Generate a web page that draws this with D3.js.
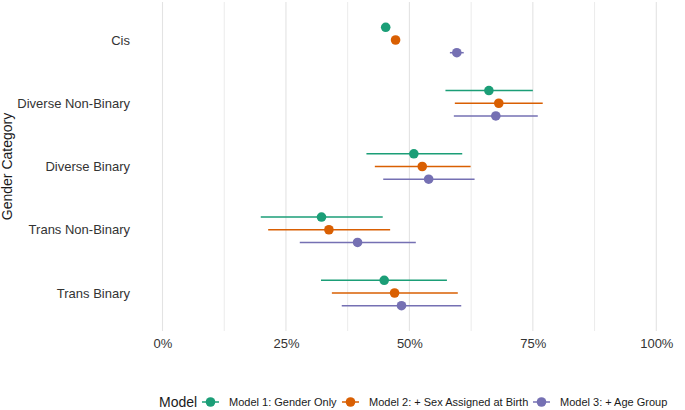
<!DOCTYPE html>
<html>
<head>
<meta charset="utf-8">
<script src="https://cdn.jsdelivr.net/npm/d3@7"></script>
<style>
  body { margin: 0; background: #fff; }
  text { font-family: "Liberation Sans", Arial, sans-serif; }
</style>
</head>
<body>
<script>
// forest-style dot + CI plot

let w = 685;
let h = 410;

let categories = ['Cis', 'Diverse Non-Binary', 'Diverse Binary', 'Trans Non-Binary', 'Trans Binary'];
let models = ['Model 1: Gender Only', 'Model 2: + Sex Assigned at Birth', 'Model 3: + Age Group'];
let colors = ['#1B9E77', '#D95F02', '#7570B3'];

// estimates (%) per category, one array per model
let est1 = [45.2, 66.1, 50.9, 32.2, 44.9];
let lo1  = [44.9, 57.3, 41.3, 19.9, 32.1];
let hi1  = [45.5, 75.0, 60.7, 44.6, 57.6];

let est2 = [47.2, 68.1, 52.6, 33.7, 47.0];
let lo2  = [46.9, 59.2, 43.0, 21.4, 34.3];
let hi2  = [47.5, 77.0, 62.4, 46.1, 59.8];

let est3 = [59.6, 67.5, 53.9, 39.5, 48.4];
let lo3  = [58.2, 59.0, 44.7, 27.8, 36.3];
let hi3  = [61.0, 76.0, 63.2, 51.3, 60.5];

let xTicks = [0, 25, 50, 75, 100];
let xMinor = [12.5, 37.5, 62.5, 87.5];

let series = [
    { est: est1, lo: lo1, hi: hi1 },
    { est: est2, lo: lo2, hi: hi2 },
    { est: est3, lo: lo3, hi: hi3 }
];

let rows = [];
series.forEach((s, m) => {
    categories.forEach((c, i) => {
        rows.push({ cat: c, model: m, est: s.est[i], lo: s.lo[i], hi: s.hi[i] });
    });
});

let svg = d3.select('body').append('svg').attr('width', w).attr('height', h);

let panel = { left: 162.5, right: 656.3, top: 2, bottom: 331 };

let x = d3.scaleLinear().domain([0, 100]).range([panel.left, panel.right]);
let y = d3.scalePoint().domain(categories).range([40, 293]);
let dodge = d3.scalePoint().domain([0, 1, 2]).range([-12.7, 12.7]);

// grid
svg.append('g').selectAll('line.minor')
    .data(xMinor)
    .enter().append('line')
    .attr('x1', d => x(d)).attr('x2', d => x(d))
    .attr('y1', panel.top).attr('y2', panel.bottom)
    .attr('stroke', '#ebebeb').attr('stroke-width', 1);

svg.append('g').selectAll('line.major')
    .data(xTicks)
    .enter().append('line')
    .attr('x1', d => x(d)).attr('x2', d => x(d))
    .attr('y1', panel.top).attr('y2', panel.bottom)
    .attr('stroke', '#e3e3e3').attr('stroke-width', 1.1);

// x axis labels
let xAxis = d3.axisBottom(x).tickValues(xTicks).tickFormat(d => d + '%').tickSize(0).tickPadding(0);
let gx = svg.append('g').attr('transform', `translate(0,${panel.bottom + 5})`).call(xAxis);
gx.select('.domain').remove();
gx.selectAll('text')
    .attr('dy', '0.9em')
    .attr('font-size', '13px')
    .attr('fill', '#333333');

// y axis labels
let yAxis = d3.axisLeft(y).tickSize(0).tickPadding(0);
let gy = svg.append('g').attr('transform', 'translate(130,0)').call(yAxis);
gy.select('.domain').remove();
gy.selectAll('text')
    .attr('font-size', '13px')
    .attr('fill', '#333333');

svg.append('text')
    .attr('transform', `translate(12,${(panel.top + panel.bottom) / 2}) rotate(-90)`)
    .attr('text-anchor', 'middle')
    .attr('font-size', '14px')
    .attr('fill', '#1a1a1a')
    .text('Gender Category');

// error bars
svg.append('g').selectAll('line')
    .data(rows)
    .enter().append('line')
    .attr('x1', d => x(d.lo)).attr('x2', d => x(d.hi))
    .attr('y1', d => y(d.cat) + dodge(d.model))
    .attr('y2', d => y(d.cat) + dodge(d.model))
    .attr('stroke', d => colors[d.model])
    .attr('stroke-width', 1.5);

// points
svg.append('g').selectAll('circle')
    .data(rows)
    .enter().append('circle')
    .attr('cx', d => x(d.est))
    .attr('cy', d => y(d.cat) + dodge(d.model))
    .attr('r', 4.8)
    .attr('fill', d => colors[d.model]);

// legend
let legY = 402;
let leg = svg.append('g');
leg.append('text')
    .attr('x', 159).attr('y', legY).attr('dy', '0.35em')
    .attr('font-size', '14px').attr('fill', '#1a1a1a')
    .text('Model');

let keyX = [202, 342, 533];
models.forEach((m, i) => {
    let g = leg.append('g').attr('transform', `translate(${keyX[i]},${legY})`);
    g.append('line').attr('x1', 0).attr('x2', 17).attr('stroke', colors[i]).attr('stroke-width', 1.5);
    g.append('circle').attr('cx', 8.5).attr('r', 4.8).attr('fill', colors[i]);
    g.append('text')
        .attr('x', 27).attr('dy', '0.35em')
        .attr('font-size', '11px').attr('fill', '#1a1a1a')
        .text(m);
});
</script>
</body>
</html>
